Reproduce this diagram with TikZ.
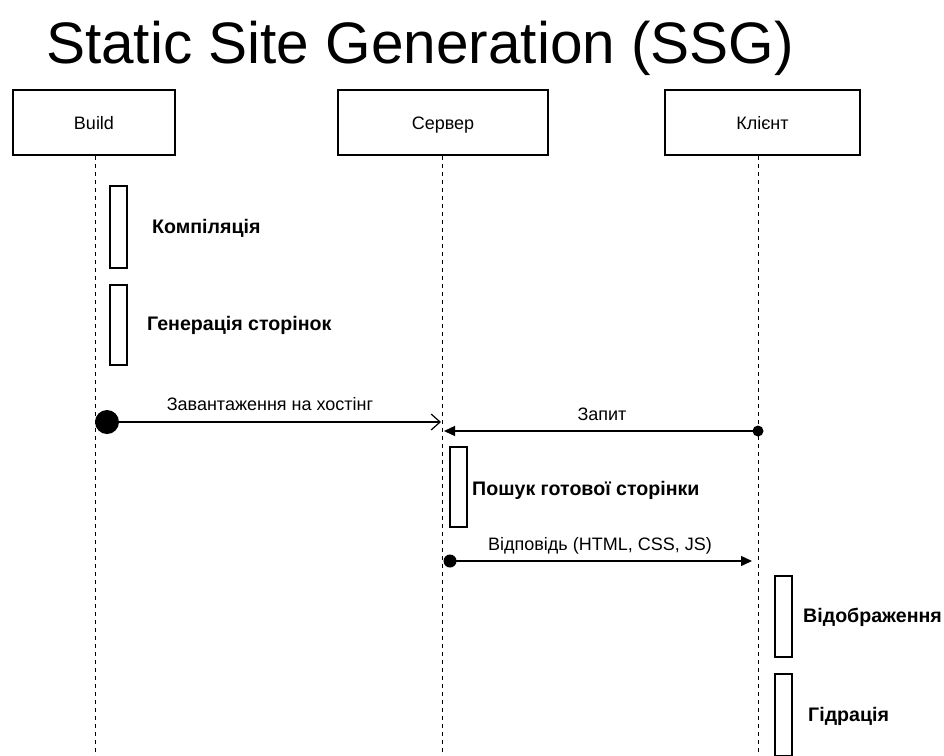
\documentclass[tikz,border=0pt]{standalone}
\usepackage{fontspec}
\setmainfont{Liberation Sans}
\usetikzlibrary{arrows.meta}
\begin{document}
\begin{tikzpicture}[x=1pt,y=-1pt,
  actor/.style={draw,line width=1.2pt,minimum width=#1,minimum height=65pt,inner sep=0pt,text height=15pt,text depth=2pt,font=\fontsize{18}{20}\selectfont},
  lifeline/.style={line width=1pt,dash pattern=on 4pt off 4pt},
  actbar/.style={draw,line width=1.1pt,fill=white,minimum width=17pt,minimum height=#1,inner sep=0pt},
  steplabel/.style={font=\bfseries\fontsize{19.6}{22}\selectfont,anchor=west,inner sep=0pt},
  msglabel/.style={font=\fontsize{18}{20}\selectfont,inner sep=0pt},
  msg/.style={line width=1.4pt},
  bigdot/.style={circle,fill=black,inner sep=0pt,minimum size=#1}
]
\useasboundingbox (0,0) rectangle (944,755);
\clip (0,0) rectangle (944,755);
\fill[white] (0,0) rectangle (944,755);

% title
\node[anchor=base,inner sep=0pt,font=\fontsize{58.5}{60}\selectfont] (title) at (420,63) {Static Site Generation (SSG)};

% actors
\node[actor=162pt] (build) at (94,122.5) {Build};
\node[actor=210pt] (server) at (443,122.5) {Сервер};
\node[actor=195pt] (client) at (762.5,122.5) {Клієнт};

\coordinate (bEnd) at (95,760);
\coordinate (sEnd) at (442,760);
\coordinate (cEnd) at (758,760);
\draw[lifeline] (build.south -| bEnd) -- (bEnd);
\draw[lifeline] (server.south -| sEnd) -- (sEnd);
\draw[lifeline] (client.south -| cEnd) -- (cEnd);

% build activations
\node[actbar=82pt] (comp) at (118.5,227) {};
\node[steplabel] (compl) at (152,228) {Компіляція};
\node[actbar=80pt] (gen) at (118.5,325) {};
\node[steplabel] (genl) at (147,325) {Генерація сторінок};

% message 1
\node[bigdot=24pt] (d1) at (107,422) {};
\coordinate (m1end) at (441,422);
\draw[msg,-{Straight Barb[length=9pt,width=16pt,line width=1.2pt]}] (d1.center) -- (m1end);
\node[msglabel,anchor=base] (m1l) at (270,410) {Завантаження на хостінг};

% message 2
\node[bigdot=11pt] (d2) at (758,431) {};
\coordinate (m2end) at (444,431);
\draw[msg,-{Triangle[length=11pt,width=10pt]}] (d2.center) -- (m2end);
\node[msglabel,anchor=base] (m2l) at (602,420) {Запит};

% server activation
\node[actbar=80pt] (srch) at (458.5,487) {};
\node[steplabel] (srchl) at (472,490) {Пошук готової сторінки};

% message 3
\node[bigdot=13pt] (d3) at (450,561) {};
\coordinate (m3end) at (752,561);
\draw[msg,-{Triangle[length=11pt,width=10pt]}] (d3.center) -- (m3end);
\node[msglabel,anchor=base] (m3l) at (600,550) {Відповідь (HTML, CSS, JS)};

% client activations
\node[actbar=81pt] (disp) at (783.5,616.5) {};
\node[steplabel] (displ) at (803,617) {Відображення};
\node[actbar=82pt] (hyd) at (783.5,715) {};
\node[steplabel] (hydl) at (808,716) {Гідрація};
\end{tikzpicture}
\end{document}
